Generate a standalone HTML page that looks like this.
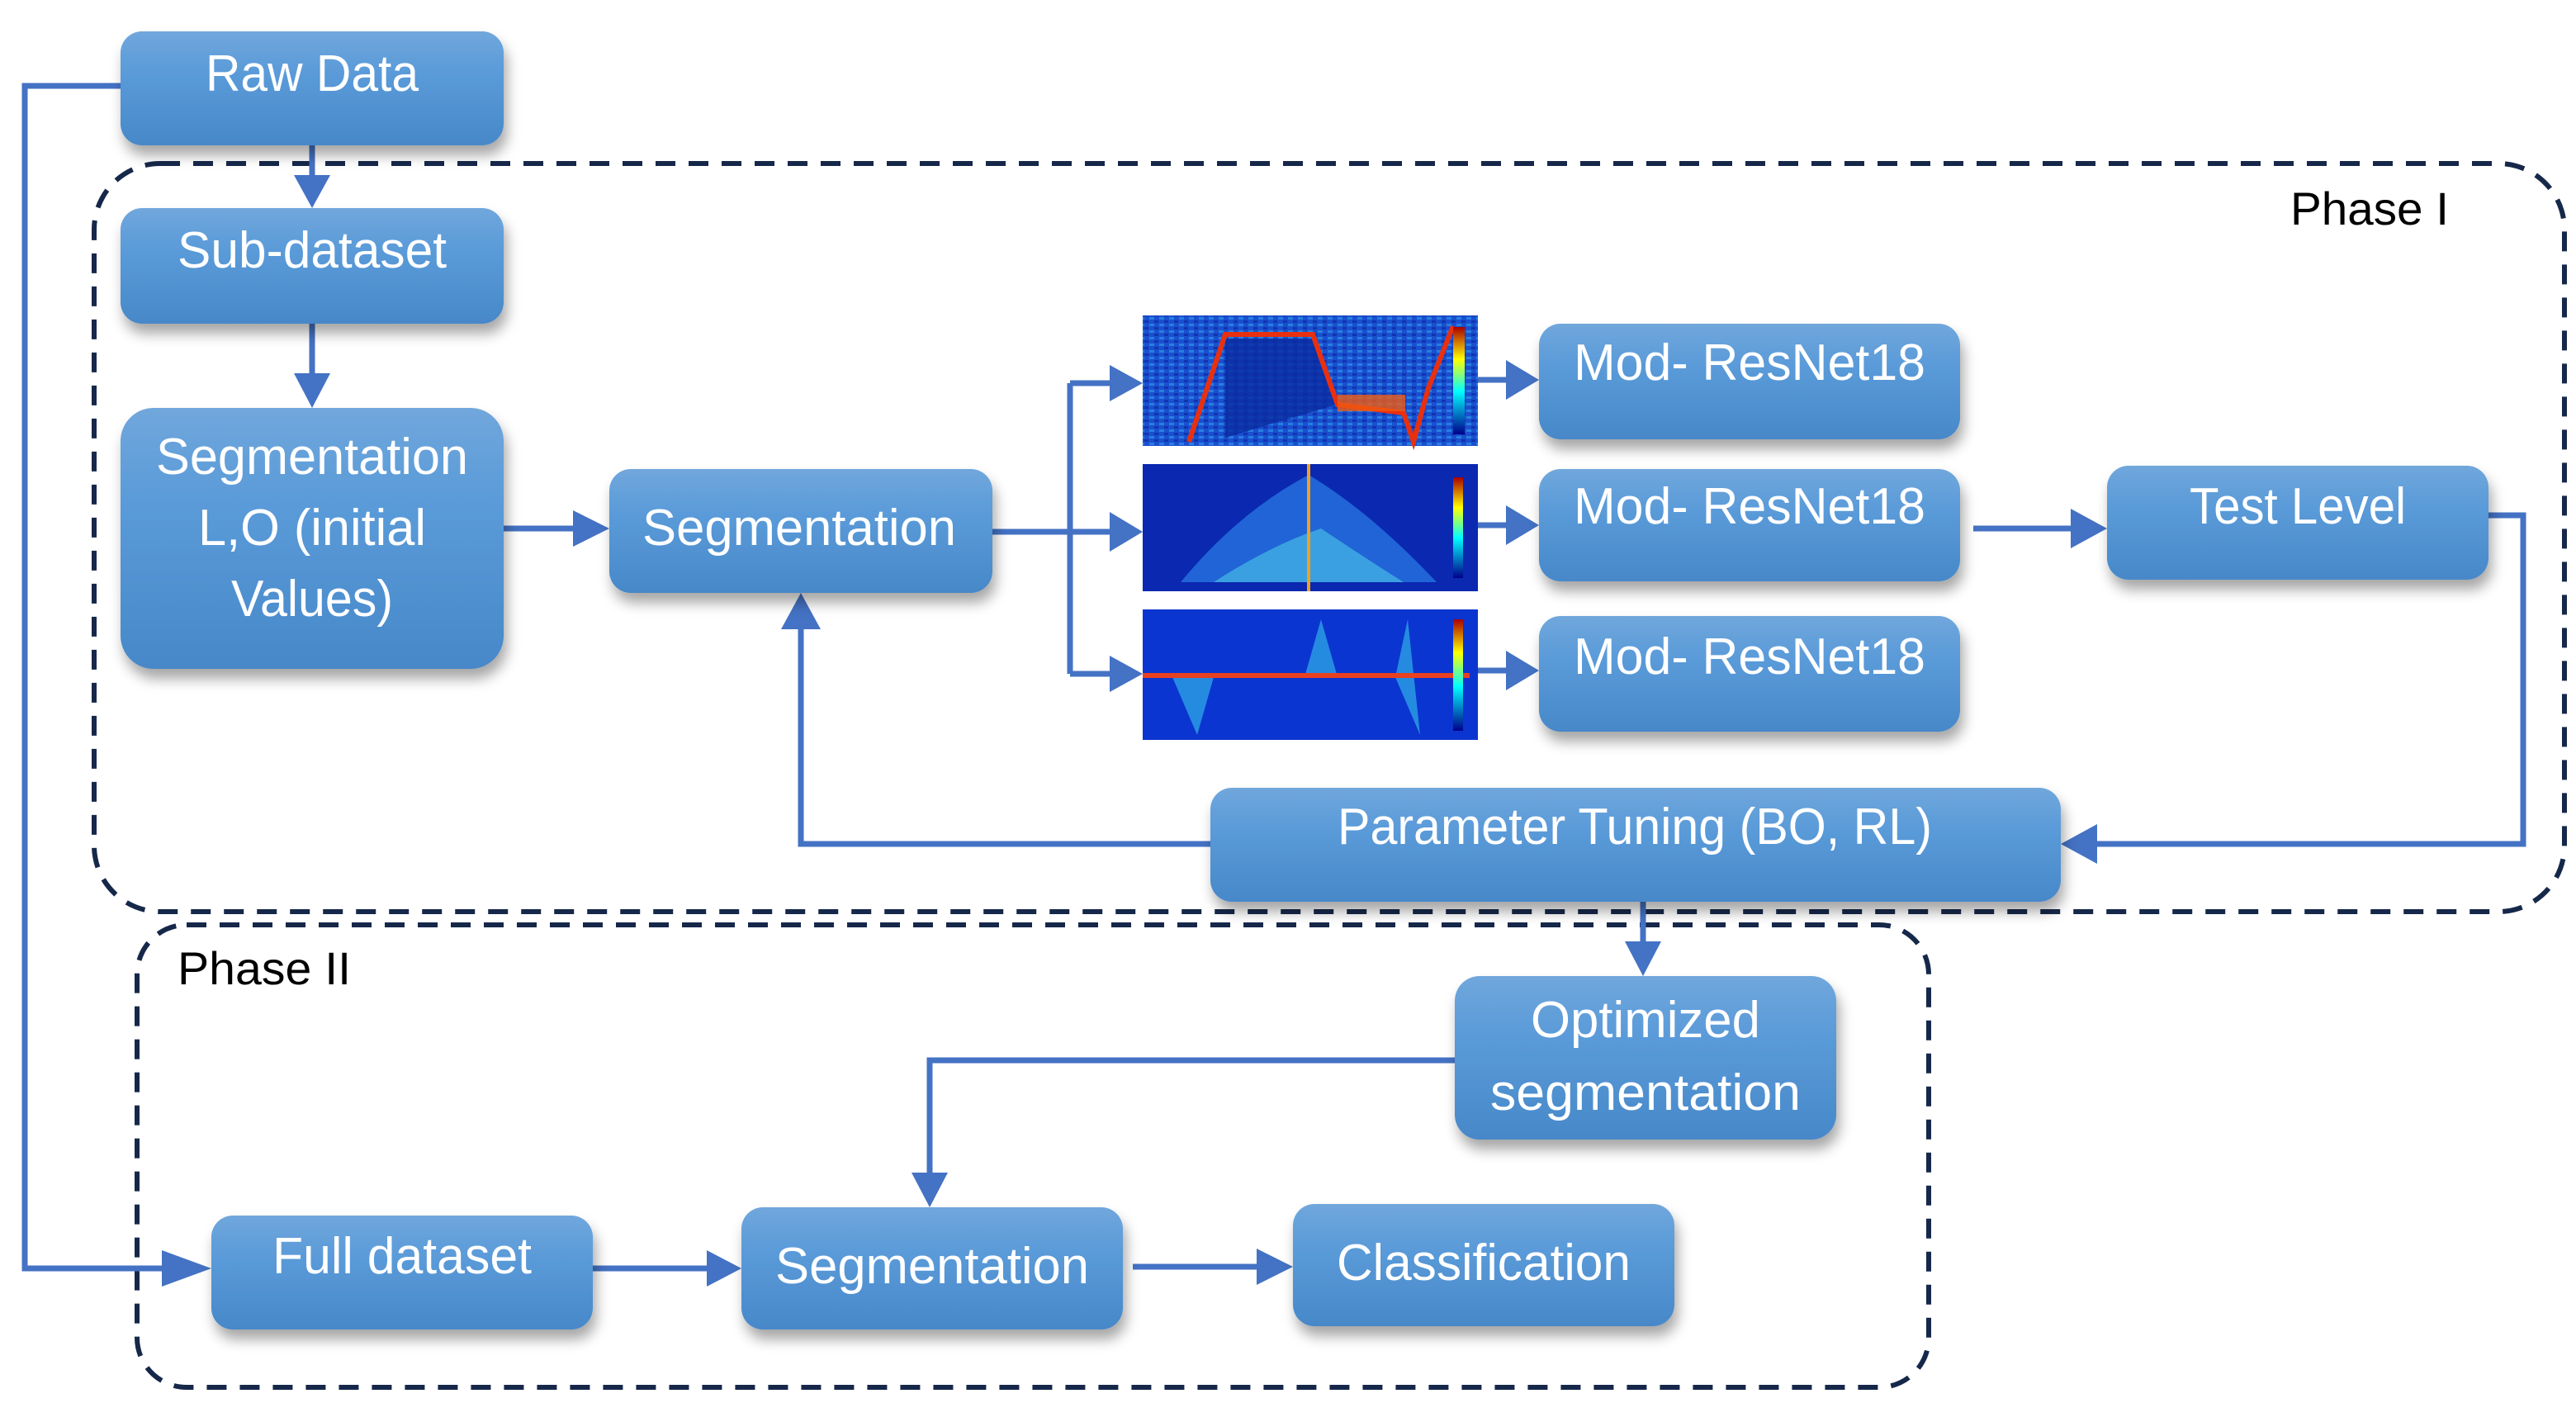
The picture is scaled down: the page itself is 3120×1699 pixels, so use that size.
<!DOCTYPE html>
<html><head><meta charset="utf-8"><style>html,body{margin:0;padding:0;background:#fff}svg{display:block}</style></head>
<body>
<svg width="3120" height="1699" viewBox="0 0 3120 1699" xmlns="http://www.w3.org/2000/svg" font-family="'Liberation Sans', sans-serif">
<defs>
<linearGradient id="g" x1="0" y1="0" x2="0" y2="1">
<stop offset="0" stop-color="#70a7dc"/><stop offset="0.35" stop-color="#5b9bd9"/><stop offset="1" stop-color="#4788c9"/>
</linearGradient>
<filter id="sh" x="-10%" y="-10%" width="120%" height="140%"><feDropShadow dx="4" dy="12" stdDeviation="8" flood-color="#000" flood-opacity="0.35"/></filter>
<linearGradient id="cb" x1="0" y1="0" x2="0" y2="1"><stop offset="0" stop-color="#a00"/><stop offset="0.3" stop-color="#ff0"/><stop offset="0.6" stop-color="#0ff"/><stop offset="1" stop-color="#00008b"/></linearGradient>
<pattern id="nz" width="12" height="8" patternUnits="userSpaceOnUse"><rect width="12" height="8" fill="#1a4fd0"/><rect x="0" y="0" width="6" height="3" fill="#2fa0e8" opacity="0.6"/><rect x="6" y="4" width="5" height="3" fill="#0a2aa0" opacity="0.7"/></pattern>
</defs>
<style>
.b{fill:url(#g);filter:url(#sh)}
.t{fill:#fff;font-size:62px;text-anchor:middle}
.l{stroke:#4472C4;stroke-width:7;fill:none}
.ar{fill:#4472C4}
.d{fill:none;stroke:#16284a;stroke-width:6;stroke-dasharray:24 16}
</style>

<rect class="d" x="114" y="198" width="2992" height="906" rx="80"/>
<rect class="d" x="166" y="1120" width="2170" height="560" rx="60"/>
<text x="2870" y="272" font-size="56" text-anchor="middle" textLength="192" lengthAdjust="spacingAndGlyphs">Phase I</text>
<text x="320" y="1192" font-size="56" text-anchor="middle" textLength="210" lengthAdjust="spacingAndGlyphs">Phase II</text>

<polyline class="l" points="146,104 30,104 30,1536 216,1536"/>
<path class="ar" d="M196,1514 L256,1536 L196,1558Z"/>
<line class="l" x1="378" y1="176" x2="378" y2="215"/><path class="ar" d="M356,212 L378,252 L400,212Z"/>
<line class="l" x1="378" y1="392" x2="378" y2="455"/><path class="ar" d="M356,452 L378,494 L400,452Z"/>
<line class="l" x1="610" y1="640" x2="700" y2="640"/><path class="ar" d="M694,618 L738,640 L694,662Z"/>
<polyline class="l" points="1202,644 1296,644"/>
<polyline class="l" points="1296,464 1296,816"/>
<line class="l" x1="1296" y1="464" x2="1350" y2="464"/><path class="ar" d="M1344,442 L1384,464 L1344,486Z"/>
<line class="l" x1="1296" y1="644" x2="1350" y2="644"/><path class="ar" d="M1344,620 L1384,644 L1344,668Z"/>
<line class="l" x1="1296" y1="816" x2="1350" y2="816"/><path class="ar" d="M1344,794 L1384,816 L1344,838Z"/>
<line class="l" x1="1790" y1="460" x2="1830" y2="460"/><path class="ar" d="M1824,436 L1864,460 L1824,484Z"/>
<line class="l" x1="1790" y1="636" x2="1830" y2="636"/><path class="ar" d="M1824,612 L1864,636 L1824,660Z"/>
<line class="l" x1="1790" y1="812" x2="1830" y2="812"/><path class="ar" d="M1824,788 L1864,812 L1824,836Z"/>
<line class="l" x1="2390" y1="640" x2="2512" y2="640"/><path class="ar" d="M2508,616 L2552,640 L2508,664Z"/>
<polyline class="l" points="3014,624 3056,624 3056,1022 2530,1022"/><path class="ar" d="M2540,998 L2496,1022 L2540,1046Z"/>
<polyline class="l" points="1466,1022 970,1022 970,760"/><path class="ar" d="M946,762 L970,718 L994,762Z"/>
<line class="l" x1="1990" y1="1092" x2="1990" y2="1145"/><path class="ar" d="M1968,1140 L1990,1182 L2012,1140Z"/>
<polyline class="l" points="1762,1284 1126,1284 1126,1425"/><path class="ar" d="M1104,1420 L1126,1462 L1148,1420Z"/>
<line class="l" x1="718" y1="1536" x2="860" y2="1536"/><path class="ar" d="M856,1514 L898,1536 L856,1558Z"/>
<line class="l" x1="1372" y1="1534" x2="1526" y2="1534"/><path class="ar" d="M1522,1512 L1566,1534 L1522,1556Z"/>

<rect class="b" x="146" y="38" width="464" height="138" rx="26"/>
<text class="t" x="378" y="110" textLength="258" lengthAdjust="spacingAndGlyphs">Raw Data</text>
<rect class="b" x="146" y="252" width="464" height="140" rx="26"/>
<text class="t" x="378" y="324" textLength="326" lengthAdjust="spacingAndGlyphs">Sub-dataset</text>
<rect class="b" x="146" y="494" width="464" height="316" rx="40"/>
<text class="t" x="378" y="574" textLength="378" lengthAdjust="spacingAndGlyphs">Segmentation</text>
<text class="t" x="378" y="660" textLength="276" lengthAdjust="spacingAndGlyphs">L,O (initial</text>
<text class="t" x="378" y="746" textLength="196" lengthAdjust="spacingAndGlyphs">Values)</text>
<rect class="b" x="738" y="568" width="464" height="150" rx="26"/>
<text class="t" x="968" y="660" textLength="380" lengthAdjust="spacingAndGlyphs">Segmentation</text>

<rect class="b" x="1864" y="392" width="510" height="140" rx="26"/>
<text class="t" x="2119" y="460" textLength="426" lengthAdjust="spacingAndGlyphs">Mod- ResNet18</text>
<rect class="b" x="1864" y="568" width="510" height="136" rx="26"/>
<text class="t" x="2119" y="634" textLength="426" lengthAdjust="spacingAndGlyphs">Mod- ResNet18</text>
<rect class="b" x="1864" y="746" width="510" height="140" rx="26"/>
<text class="t" x="2119" y="816" textLength="426" lengthAdjust="spacingAndGlyphs">Mod- ResNet18</text>
<rect class="b" x="2552" y="564" width="462" height="138" rx="26"/>
<text class="t" x="2783" y="634" textLength="262" lengthAdjust="spacingAndGlyphs">Test Level</text>
<rect class="b" x="1466" y="954" width="1030" height="138" rx="26"/>
<text class="t" x="1980" y="1022" textLength="720" lengthAdjust="spacingAndGlyphs">Parameter Tuning (BO, RL)</text>
<rect class="b" x="1762" y="1182" width="462" height="198" rx="30"/>
<text class="t" x="1993" y="1256" textLength="278" lengthAdjust="spacingAndGlyphs">Optimized</text>
<text class="t" x="1993" y="1344" textLength="376" lengthAdjust="spacingAndGlyphs">segmentation</text>
<rect class="b" x="256" y="1472" width="462" height="138" rx="26"/>
<text class="t" x="487" y="1542" textLength="314" lengthAdjust="spacingAndGlyphs">Full dataset</text>
<rect class="b" x="898" y="1462" width="462" height="148" rx="26"/>
<text class="t" x="1129" y="1554" textLength="380" lengthAdjust="spacingAndGlyphs">Segmentation</text>
<rect class="b" x="1566" y="1458" width="462" height="148" rx="26"/>
<text class="t" x="1797" y="1550" textLength="356" lengthAdjust="spacingAndGlyphs">Classification</text>

<g>
<rect x="1384" y="382" width="406" height="158" fill="url(#nz)"/>
<path d="M1484,410 L1590,410 L1618,490 L1484,530Z" fill="#0a2aa0" opacity="0.8"/>
<path d="M1440,535 L1484,405 L1590,405 L1620,490 L1700,500 L1712,535 L1730,470 L1760,395" stroke="#e83010" stroke-width="6" fill="none"/>
<rect x="1620" y="478" width="82" height="20" fill="#f05a10" opacity="0.8"/>
<rect x="1760" y="396" width="14" height="130" fill="url(#cb)"/>
</g>
<g>
<rect x="1384" y="562" width="406" height="154" fill="#0a28b0"/>
<path d="M1430,705 Q1500,620 1585,575 Q1660,620 1740,705Z" fill="#2a7ee8" opacity="0.7"/>
<path d="M1470,705 Q1540,660 1600,640 Q1660,680 1700,705Z" fill="#4ec8e8" opacity="0.6"/>
<line x1="1585" y1="562" x2="1585" y2="716" stroke="#f0a020" stroke-width="4"/>
<rect x="1760" y="578" width="12" height="122" fill="url(#cb)"/>
</g>
<g>
<rect x="1384" y="738" width="406" height="158" fill="#0b35d0"/>
<path d="M1420,820 L1450,890 L1470,820Z M1580,820 L1600,750 L1620,820Z M1690,820 L1705,750 L1720,890 Z" fill="#30b0e8" opacity="0.7"/>
<line x1="1384" y1="818" x2="1780" y2="818" stroke="#e84020" stroke-width="6"/>
<rect x="1760" y="750" width="12" height="135" fill="url(#cb)"/>
</g>
</svg>
</body></html>
